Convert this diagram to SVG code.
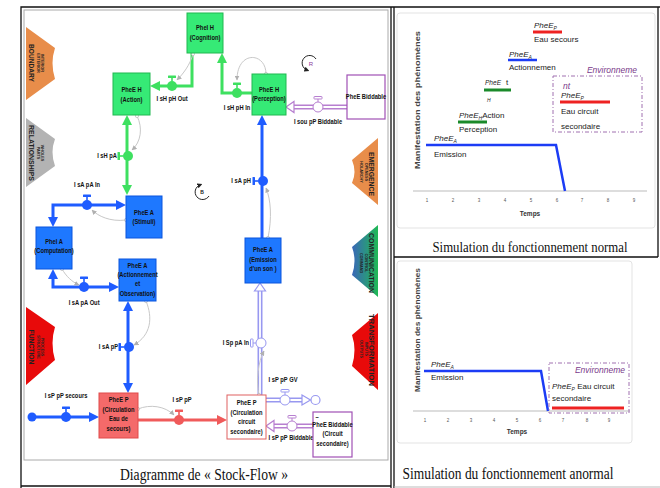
<svg xmlns="http://www.w3.org/2000/svg" width="660" height="488" viewBox="0 0 660 488">
<style>
text{font-family:"Liberation Sans",Arial,sans-serif}
.n,.f{font-size:8px;font-weight:bold;fill:#111;transform:scaleX(0.72);transform-box:fill-box;transform-origin:center}
.n{text-anchor:middle}
.m{text-anchor:middle}.e{text-anchor:end;transform-origin:right center}
.bg{fill:#36ea76;stroke:#20b850;stroke-width:1}
.bb{fill:#1e78ff;stroke:#0a55dd;stroke-width:1}
.bp{fill:#fff;stroke:#a050b5;stroke-width:1.2}
.br{fill:#f46a6a;stroke:#e04a4a;stroke-width:1}
.bw{fill:#fff;stroke:#e06060;stroke-width:1}
.fg{fill:none;stroke:#3ee060;stroke-width:3}
.fb{fill:none;stroke:#1f5cff;stroke-width:3}
.fr{fill:none;stroke:#f05a5a;stroke-width:3}
.pp{fill:none;stroke:#b77fd0;stroke-width:5}
.pl{fill:none;stroke:#9898f0;stroke-width:5}
.pi{fill:none;stroke:#fff;stroke-width:1.8}
.hp{fill:#fff;stroke:#b77fd0;stroke-width:1.2}
.hl{fill:#fff;stroke:#9898f0;stroke-width:1.2}
.info{fill:none;stroke:#c8c8c8;stroke-width:1}
.bn{font-weight:bold;text-anchor:middle;fill:#222}
.bt{font-size:6.5px}.bs{font-size:3.8px}
.ch{font-size:8px;fill:#222}
.it{font-style:italic}
.sub{font-size:5px}
.tk{font-size:4.5px;fill:#555;text-anchor:middle}
.cap{font-family:"Liberation Serif","Times New Roman",serif;fill:#111}
.env{fill:none;stroke:#a070b0;stroke-width:1;stroke-dasharray:4 2 1 2}
.envt{font-size:8.5px;font-style:italic;fill:#7a3a8a}
</style>
<defs>
<linearGradient id="gc" x1="0" y1="0" x2="1" y2="0"><stop offset="0" stop-color="#3a67b8"/><stop offset="1" stop-color="#1fb955"/></linearGradient>
<marker id="ag" viewBox="0 0 10 10" refX="6" refY="5" markerWidth="10" markerHeight="10" markerUnits="userSpaceOnUse" orient="auto-start-reverse"><path d="M0,0L10,5L0,10z" fill="#3ee060"/></marker>
<marker id="ab" viewBox="0 0 10 10" refX="6" refY="5" markerWidth="10" markerHeight="10" markerUnits="userSpaceOnUse" orient="auto-start-reverse"><path d="M0,0L10,5L0,10z" fill="#1f5cff"/></marker>
<marker id="ar" viewBox="0 0 10 10" refX="6" refY="5" markerWidth="10" markerHeight="10" markerUnits="userSpaceOnUse" orient="auto-start-reverse"><path d="M0,0L10,5L0,10z" fill="#f05a5a"/></marker>
<marker id="ai" viewBox="0 0 10 10" refX="9" refY="5" markerWidth="5" markerHeight="5" markerUnits="userSpaceOnUse" orient="auto"><path d="M0,0L10,5L0,10z" fill="#b0b0b0"/></marker>
<marker id="ci" viewBox="0 0 10 10" refX="5" refY="5" markerWidth="4" markerHeight="4" markerUnits="userSpaceOnUse"><circle cx="5" cy="5" r="4" fill="#fff" stroke="#b0b0b0" stroke-width="1.5"/></marker>
<marker id="ak" viewBox="0 0 10 10" refX="5" refY="5" markerWidth="5" markerHeight="5" markerUnits="userSpaceOnUse" orient="auto"><path d="M0,0L10,5L0,10z" fill="#222"/></marker>
<g id="v" fill="currentColor"><rect x="-4" y="-10.5" width="8" height="2.5" rx="0.5"/><rect x="-0.8" y="-8.5" width="1.6" height="4"/><circle r="5"/></g>
<g id="vo" fill="#fff" stroke="currentColor" stroke-width="1"><rect x="-4" y="-10.5" width="8" height="2.5" rx="0.5"/><line x1="0" y1="-8" x2="0" y2="-5"/><circle r="5"/></g>
</defs>

<g id="frames">
<rect x="0" y="0" width="660" height="488" fill="#fff"/>
<path d="M21,488V7H660M391,7V488M394,7V488M658,7V257M394,257H658M21,486H391" fill="none" stroke="#111" stroke-width="1.3"/>
<rect x="24" y="10" width="364" height="450" fill="none" stroke="#aaa" stroke-width="1"/>
<path d="M394,487H660" stroke="#bbb" stroke-width="1"/>
</g>

<g id="banners">
<path d="M26,27L55,48Q50,63 55,79L26,100Z" fill="#e88d4a"/>
<path d="M26,118L55,139Q50,152 55,166L26,187Z" fill="#b3b3b3"/>
<path d="M26,307L55,327Q50,343 55,360L26,385Z" fill="#e80a0a"/>
<path d="M378,138L352,160Q357,172 352,183L378,205Z" fill="#e88d4a"/>
<path d="M378,225L352,247Q357,261 352,275L378,297Z" fill="url(#gc)"/>
<path d="M378,313L352,335Q357,350 352,366L378,390Z" fill="#e80a0a"/>
<g class="bn">
<text class="bt" transform="translate(29,63) rotate(90)" textLength="38" lengthAdjust="spacingAndGlyphs">BOUNDARY</text>
<text class="bs" transform="translate(37,63) rotate(90)">EXTERIOR</text>
<text class="bs" transform="translate(41,63) rotate(90)">INTERIOR</text>
<text class="bt" transform="translate(29,153) rotate(90)" textLength="56" lengthAdjust="spacingAndGlyphs">RELATIONSHIPS</text>
<text class="bs" transform="translate(37,153) rotate(90)">PARTS</text>
<text class="bs" transform="translate(41,153) rotate(90)">WHOLES</text>
<text class="bt" transform="translate(29,347) rotate(90)" textLength="35" lengthAdjust="spacingAndGlyphs">FUNCTION</text>
<text class="bs" transform="translate(37,347) rotate(90)">STRUCTURE</text>
<text class="bs" transform="translate(41,347) rotate(90)">PROCESS</text>
<text class="bt" transform="translate(369,174) rotate(90)" textLength="44" lengthAdjust="spacingAndGlyphs">EMERGENCE</text>
<text class="bs" transform="translate(364.5,172) rotate(90)">OPENESS</text>
<text class="bs" transform="translate(360,172) rotate(90)">HOLARCHY</text>
<text class="bt" transform="translate(369,263) rotate(90)" textLength="60" lengthAdjust="spacingAndGlyphs">COMMUNICATION</text>
<text class="bs" transform="translate(364.5,263) rotate(90)">CONTROL</text>
<text class="bs" transform="translate(360,263) rotate(90)">COMMAND</text>
<text class="bt" transform="translate(369,350) rotate(90)" textLength="72" lengthAdjust="spacingAndGlyphs">TRANSFORMATION</text>
<text class="bs" transform="translate(364.5,349) rotate(90)">INPUTS</text>
<text class="bs" transform="translate(360,349) rotate(90)">OUTPUTS</text>
</g>
</g>

<g id="connectors">
<path class="fg" d="M252,93H222V57" marker-end="url(#ag)"/>
<path class="fg" d="M192,53V86H154" marker-end="url(#ag)"/>
<path class="fg" d="M127,119V191" marker-start="url(#ag)" marker-end="url(#ag)"/>
<path class="fb" d="M122,205H53V223" marker-start="url(#ab)" marker-end="url(#ab)"/>
<path class="fb" d="M53,273V287H115" marker-start="url(#ab)" marker-end="url(#ab)"/>
<path class="fb" d="M128,305V389" marker-start="url(#ab)" marker-end="url(#ab)"/>
<path class="fb" d="M262,238V119" marker-end="url(#ab)"/>
<circle cx="32" cy="417" r="4.5" fill="#1f5cff"/>
<path class="fb" d="M32,417H95" marker-end="url(#ab)"/>
<path class="fr" d="M138,420H223" marker-end="url(#ar)"/>
<path class="pp" d="M347,107H293"/><path class="pi" d="M347,107H293"/>
<polygon class="hp" points="286,107 294,101.5 294,112.5"/>
<path class="pl" d="M260,395V291"/><path class="pi" d="M260,395V291"/>
<polygon class="hl" points="260,283 254.5,291 265.5,291"/>
<path class="pl" d="M266,400H302"/><path class="pi" d="M266,400H302"/>
<polygon class="hl" points="302,395 310.5,400 302,405"/>
<circle class="hl" cx="315.5" cy="400" r="4.5"/>
<path class="pp" d="M313,426H273"/><path class="pi" d="M313,426H273"/>
<polygon class="hp" points="266,426 274,420.5 274,431.5"/>
<g marker-start="url(#ci)" marker-end="url(#ai)">
<path class="info" d="M266,74C266,52 237,50 237,80"/>
<path class="info" d="M193,54C190,65 183,74 177,80"/>
<path class="info" d="M137,116C143,128 141,142 132,150"/>
<path class="info" d="M126,220C110,222 98,216 92,210"/>
<path class="info" d="M62,269C66,276 72,282 79,285"/>
<path class="info" d="M146,301C153,318 151,335 134,345"/>
<path class="info" d="M268,238C272,218 271,200 266,188"/>
<path class="info" d="M138,409C150,404 165,406 174,415"/>
<path class="info" d="M259,395C256,380 258,362 264,351"/>
</g>
</g>

<g id="valves">
<use href="#v" color="#3ee060" transform="translate(172,86)"/>
<use href="#v" color="#3ee060" transform="translate(237,93)"/>
<use href="#vo" color="#b77fd0" transform="translate(318,107)"/>
<use href="#v" color="#3ee060" transform="translate(128,156) rotate(-90)"/>
<use href="#v" color="#1f5cff" transform="translate(87,205)"/>
<use href="#v" color="#1f5cff" transform="translate(84,287)"/>
<use href="#v" color="#1f5cff" transform="translate(263,181) rotate(-90)"/>
<use href="#v" color="#1f5cff" transform="translate(129,347) rotate(-90)"/>
<use href="#v" color="#1f5cff" transform="translate(66,417)"/>
<use href="#v" color="#f05a5a" transform="translate(179,420)"/>
<use href="#vo" color="#9898f0" transform="translate(261,343) rotate(-90)"/>
<use href="#vo" color="#9898f0" transform="translate(285,400)"/>
<use href="#vo" color="#b77fd0" transform="translate(292,426)"/>
<text class="f m" x="172" y="101">I sH pH Out</text>
<text class="f m" x="237" y="110">I sH pH In</text>
<text class="f m" x="318" y="124">I sou pP Biddable</text>
<text class="f e" x="117" y="158">I sH pA</text>
<text class="f m" x="87" y="187">I sA pA In</text>
<text class="f m" x="84" y="305">I sA pA Out</text>
<text class="f e" x="251" y="183">I sA pH</text>
<text class="f e" x="118" y="349">I sA pP</text>
<text class="f m" x="66" y="398">I sP pP secours</text>
<text class="f m" x="182" y="402">I sP pP</text>
<text class="f e" x="249" y="345">I Sp pA In</text>
<text class="f m" x="283" y="382">I sP pP GV</text>
<text class="f m" x="291" y="440">I sP pP Biddable</text>
</g>

<g id="loops">
<path d="M316,59A7.5,7.5 0 1 0 307,70" fill="none" stroke="#222" stroke-width="1" marker-end="url(#ak)"/>
<text x="311" y="66" font-size="6" fill="#8a3a9a" text-anchor="middle">R</text>
<path d="M209,196A7.5,7.5 0 1 1 200,185" fill="none" stroke="#222" stroke-width="1" marker-end="url(#ak)"/>
<text x="202" y="194" font-size="5" font-weight="bold" fill="#222" text-anchor="middle">B</text>
</g>

<g id="n-cognition"><rect class="bg" x="187" y="13" width="36" height="40"/><text class="n" x="205" y="30">PheI H</text><text class="n" x="205" y="40">(Cognition)</text></g>
<g id="n-action-h"><rect class="bg" x="113" y="73" width="37" height="42"/><text class="n" x="131.5" y="92">PheE H</text><text class="n" x="131.5" y="102">(Action)</text></g>
<g id="n-perception"><rect class="bg" x="252" y="74" width="34" height="41"/><text class="n" x="269" y="92">PheE H</text><text class="n" x="269" y="101">(Perception)</text></g>
<g id="n-biddable"><rect class="bp" x="347" y="75" width="38" height="44"/><text class="n" x="366" y="99">PheE Biddable</text></g>
<g id="n-stimuli"><rect class="bb" x="126" y="196" width="36" height="42"/><text class="n" x="144" y="215">PheE A</text><text class="n" x="144" y="224">(Stimuli)</text></g>
<g id="n-computation"><rect class="bb" x="36" y="227" width="36" height="42"/><text class="n" x="54" y="244">PheI A</text><text class="n" x="54" y="253">(Computation)</text></g>
<g id="n-actionnement"><rect class="bb" x="119" y="259" width="37" height="42"/><text class="n" x="137.5" y="268">PheE A</text><text class="n" x="137.5" y="277">(Actionnement</text><text class="n" x="137.5" y="286">et</text><text class="n" x="137.5" y="296">Observation)</text></g>
<g id="n-emission"><rect class="bb" x="245" y="238" width="36" height="45"/><text class="n" x="263" y="252">PheE A</text><text class="n" x="263" y="262">(Emission</text><text class="n" x="263" y="271">d'un son )</text></g>
<g id="n-secours"><rect class="br" x="99" y="393" width="39" height="45"/><text class="n" x="118.5" y="402">PheE P</text><text class="n" x="118.5" y="412">(Circulation</text><text class="n" x="118.5" y="421">Eau de</text><text class="n" x="118.5" y="431">secours)</text></g>
<g id="n-secondaire"><rect class="bw" x="227" y="395" width="39" height="44"/><text class="n" x="246.5" y="405">PheE P</text><text class="n" x="246.5" y="415">(Circulation</text><text class="n" x="246.5" y="424">circuit</text><text class="n" x="246.5" y="434">secondaire)</text></g>
<g id="n-biddable2"><rect class="bp" x="313" y="412" width="39" height="45"/><text class="n" x="317" y="419">–</text><text class="n" x="332.5" y="427">PheE Biddable</text><text class="n" x="332.5" y="436">(Circuit</text><text class="n" x="332.5" y="446">secondaire)</text></g>

<text class="cap" x="204" y="480" font-size="16" text-anchor="middle" textLength="168" lengthAdjust="spacingAndGlyphs">Diagramme de « Stock-Flow »</text>

<g id="chart-normal">
<rect x="397" y="13" width="258" height="215" rx="3" fill="#fff" stroke="#e3e3e3"/>
<text transform="translate(420,100) rotate(-90)" font-size="7.5" font-weight="bold" fill="#444" text-anchor="middle" textLength="138" lengthAdjust="spacingAndGlyphs">Manifestation des phénomènes</text>
<line x1="413" y1="191" x2="647" y2="191" stroke="#bbb"/>
<text class="tk" x="427" y="202">1</text><text class="tk" x="453" y="202">2</text><text class="tk" x="479" y="202">3</text><text class="tk" x="505" y="202">4</text><text class="tk" x="531" y="202">5</text><text class="tk" x="557" y="202">6</text><text class="tk" x="582" y="202">7</text><text class="tk" x="608" y="202">8</text><text class="tk" x="634" y="202">9</text>
<text x="530" y="216" font-size="6.5" font-weight="bold" fill="#333" text-anchor="middle">Temps</text>
<polyline points="426,145 556,145 565,191" fill="none" stroke="#1c3cf5" stroke-width="2.5"/>
<text class="ch" x="434" y="141"><tspan class="it">PheE</tspan><tspan class="it sub" dy="2">A</tspan></text>
<text class="ch" x="434" y="157">Emission</text>
<line x1="458" y1="122" x2="487" y2="122" stroke="#1a8a2a" stroke-width="3"/>
<text class="ch" x="459" y="118"><tspan class="it">PheE</tspan><tspan class="it sub" dy="2">H</tspan><tspan dy="-2">Action</tspan></text>
<text class="ch" x="459" y="132">Perception</text>
<line x1="484" y1="90" x2="511" y2="90" stroke="#1a8a2a" stroke-width="3"/>
<text class="ch it" x="485" y="85" textLength="16" lengthAdjust="spacingAndGlyphs">PheE</text>
<text class="ch" x="506" y="85">t</text>
<text class="ch it sub" x="487" y="102">H</text>
<line x1="508" y1="60" x2="537" y2="60" stroke="#1c3cf5" stroke-width="2.5"/>
<text class="ch" x="509" y="57"><tspan class="it">PheE</tspan><tspan class="it sub" dy="2">A</tspan></text>
<text class="ch" x="509" y="70">Actionnemen</text>
<line x1="533" y1="32" x2="562" y2="32" stroke="#ee2222" stroke-width="3"/>
<text class="ch" x="534" y="28"><tspan class="it">PheE</tspan><tspan class="it sub" dy="2">P</tspan></text>
<text class="ch" x="534" y="42">Eau secours</text>
<rect class="env" x="553" y="76" width="89" height="56"/>
<text class="envt" x="637" y="73" text-anchor="end">Environneme</text>
<text class="envt" x="563" y="89">nt</text>
<line x1="560" y1="102" x2="610" y2="102" stroke="#ee2222" stroke-width="3"/>
<text class="ch" x="561" y="98"><tspan class="it">PheE</tspan><tspan class="it sub" dy="2">P</tspan></text>
<text class="ch" x="561" y="114">Eau circuit</text>
<text class="ch" x="561" y="129">secondaire</text>
</g>
<text class="cap" x="530" y="252" font-size="15" text-anchor="middle" textLength="195" lengthAdjust="spacingAndGlyphs">Simulation du fonctionnement normal</text>

<g id="chart-anormal">
<rect x="397" y="261" width="235" height="182" rx="3" fill="#fff" stroke="#e3e3e3"/>
<text transform="translate(420,330) rotate(-90)" font-size="7" font-weight="bold" fill="#444" text-anchor="middle" textLength="124" lengthAdjust="spacingAndGlyphs">Manifestation des phénomènes</text>
<line x1="413" y1="411" x2="630" y2="411" stroke="#bbb"/>
<text class="tk" x="425" y="422">1</text><text class="tk" x="448" y="422">2</text><text class="tk" x="471" y="422">3</text><text class="tk" x="494" y="422">4</text><text class="tk" x="517" y="422">5</text><text class="tk" x="540" y="422">6</text><text class="tk" x="563" y="422">7</text><text class="tk" x="587" y="422">8</text><text class="tk" x="609" y="422">9</text>
<text x="517" y="434" font-size="6.5" font-weight="bold" fill="#333" text-anchor="middle">Temps</text>
<polyline points="424,371 541,371 548,411" fill="none" stroke="#1c3cf5" stroke-width="2.5"/>
<text class="ch" x="431" y="367"><tspan class="it">PheE</tspan><tspan class="it sub" dy="2">A</tspan></text>
<text class="ch" x="431" y="380">Emission</text>
<rect class="env" x="549" y="363" width="80" height="50"/>
<text class="envt" x="625" y="373" text-anchor="end">Environneme</text>
<text class="ch" x="552" y="389"><tspan class="it">PheE</tspan><tspan class="it sub" dy="2">P</tspan><tspan dy="-2"> Eau circuit</tspan></text>
<text class="ch" x="552" y="401">secondaire</text>
<line x1="552" y1="408" x2="624" y2="408" stroke="#ee2222" stroke-width="3"/>
</g>
<text class="cap" x="508" y="479" font-size="16" text-anchor="middle" textLength="211" lengthAdjust="spacingAndGlyphs">Simulation du fonctionnement anormal</text>
</svg>
